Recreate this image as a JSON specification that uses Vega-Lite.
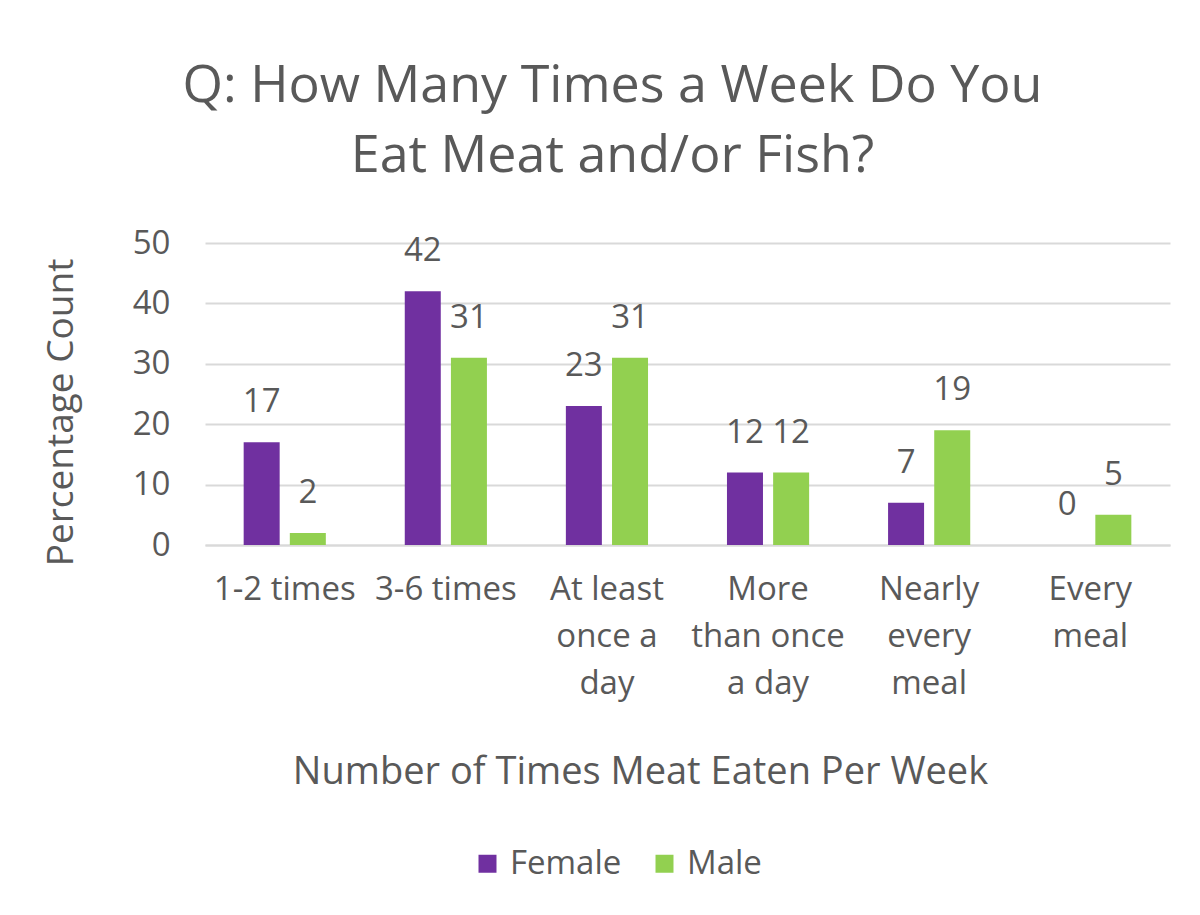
{
  "$schema": "https://vega.github.io/schema/vega-lite/v6.json",
  "width": 965,
  "height": 302,
  "autosize": {"type": "none"},
  "padding": {"left": 205, "top": 243, "right": 30, "bottom": 370},
  "background": "white",
  "config": {
    "font": "Open Sans",
    "view": {"stroke": null},
    "axis": {"labelColor": "#595959", "titleColor": "#595959", "labelFont": "Open Sans", "titleFont": "Open Sans"}
  },
  "title": {
    "text": ["Q: How Many Times a Week Do You", "Eat Meat and/or Fish?"],
    "fontSize": 52,
    "fontWeight": "normal",
    "color": "#595959",
    "lineHeight": 70,
    "anchor": "middle",
    "frame": "group",
    "dx": -75,
    "offset": 44
  },
  "data": {
    "values": [
      {"category": "1-2 times", "gender": "Female", "value": 17},
      {"category": "1-2 times", "gender": "Male", "value": 2},
      {"category": "3-6 times", "gender": "Female", "value": 42},
      {"category": "3-6 times", "gender": "Male", "value": 31},
      {"category": "At least|once a|day", "gender": "Female", "value": 23},
      {"category": "At least|once a|day", "gender": "Male", "value": 31},
      {"category": "More|than once|a day", "gender": "Female", "value": 12},
      {"category": "More|than once|a day", "gender": "Male", "value": 12},
      {"category": "Nearly|every|meal", "gender": "Female", "value": 7},
      {"category": "Nearly|every|meal", "gender": "Male", "value": 19},
      {"category": "Every|meal", "gender": "Female", "value": 0},
      {"category": "Every|meal", "gender": "Male", "value": 5}
    ]
  },
  "encoding": {
    "x": {
      "field": "category",
      "type": "nominal",
      "sort": null,
      "scale": {"paddingInner": 0.49, "paddingOuter": 0.24},
      "axis": {
        "title": "Number of Times Meat Eaten Per Week",
        "titleFontSize": 38,
        "titleFontWeight": "normal",
        "titlePadding": 53,
        "titleX": 435,
        "labelExpr": "split(datum.label, '|')",
        "labelAngle": 0,
        "labelFontSize": 33,
        "labelLineHeight": 47,
        "labelPadding": 28,
        "labelOverlap": false,
        "labelBound": false,
        "ticks": false,
        "domainColor": "#d9d9d9",
        "domainWidth": 2
      }
    },
    "xOffset": {"field": "gender", "type": "nominal", "scale": {"paddingInner": 0.22}},
    "y": {
      "field": "value",
      "type": "quantitative",
      "scale": {"domain": [0, 50]},
      "axis": {
        "title": "Percentage Count",
        "titleFontSize": 37,
        "titleFontWeight": "normal",
        "titleX": -125,
        "titleY": 169,
        "values": [0, 10, 20, 30, 40, 50],
        "labelFontSize": 33,
        "labelPadding": 35,
        "ticks": false,
        "domain": false,
        "gridColor": "#d9d9d9",
        "gridWidth": 2
      }
    }
  },
  "layer": [
    {
      "mark": {"type": "bar"},
      "encoding": {
        "color": {
          "field": "gender",
          "type": "nominal",
          "scale": {"domain": ["Female", "Male"], "range": ["#7030A0", "#92D050"]},
          "legend": {
            "title": null,
            "orient": "none",
            "direction": "horizontal",
            "legendX": 266,
            "legendY": 604,
            "symbolType": "square",
            "symbolSize": 324,
            "symbolStrokeWidth": 0,
            "labelFontSize": 33,
            "labelColor": "#595959",
            "labelFont": "Open Sans",
            "columnPadding": 26,
            "labelOffset": 6
          }
        }
      }
    },
    {
      "mark": {"type": "text", "baseline": "alphabetic", "dy": -30, "fontSize": 33, "color": "#595959"},
      "encoding": {"text": {"field": "value", "type": "quantitative"}}
    }
  ]
}
